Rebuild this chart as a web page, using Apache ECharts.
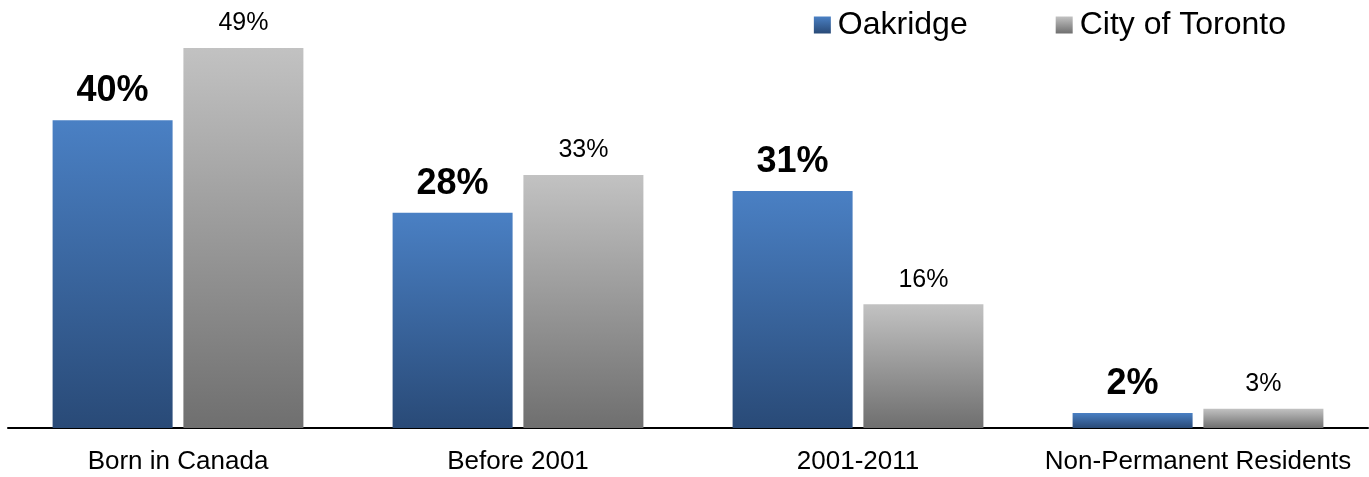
<!DOCTYPE html>
<html>
<head>
<meta charset="utf-8">
<script src="https://cdn.jsdelivr.net/npm/echarts@6/dist/echarts.min.js"></script>
<style>
  html, body { margin: 0; padding: 0; background: #fff; }
  #chart { width: 1369px; height: 477px; }
</style>
</head>
<body>
<div id="chart"></div>
<script>
// categories and values (percent; labels are rounded)
var categories = ['Born in Canada', 'Before 2001', '2001-2011', 'Non-Permanent Residents']
var oakridgeValues = [40, 28, 30.8, 1.95]
var torontoValues = [49.4, 32.9, 16.1, 2.5]

var font = 'Arial, "Liberation Sans", sans-serif'

function grad(top, bottom) {
  return new echarts.graphic.LinearGradient(0, 0, 0, 1, [
    { offset: 0, color: top },
    { offset: 1, color: bottom }
  ])
}

function pct(p) {
  return Math.round(p.value) + '%'
}

var chart = echarts.init(document.getElementById('chart'))
chart.setOption({
  animation: false,
  legend: {
    right: 78,
    top: 4,
    itemWidth: 17,
    itemHeight: 17,
    itemGap: 88,
    icon: 'rect',
    textStyle: {
      fontFamily: font,
      fontSize: 32,
      color: '#000',
      padding: [0, 0, 6, 2]
    },
    data: ['Oakridge', 'City of Toronto']
  },
  grid: {
    left: 8,
    right: 1,
    top: 5,
    bottom: 49
  },
  xAxis: {
    type: 'category',
    data: categories,
    axisLine: { lineStyle: { color: '#000', width: 2 } },
    axisTick: { show: false },
    axisLabel: {
      interval: 0,
      fontFamily: font,
      fontSize: 26,
      color: '#000',
      margin: 21
    }
  },
  yAxis: {
    type: 'value',
    min: 0,
    max: 55,
    show: false,
    splitLine: { show: false }
  },
  series: [
    {
      name: 'Oakridge',
      type: 'bar',
      barWidth: 120,
      barGap: '9%',
      data: oakridgeValues,
      itemStyle: { color: grad('#4a80c4', '#294a77') },
      label: {
        show: true,
        position: 'top',
        distance: 11,
        formatter: pct,
        fontFamily: font,
        fontSize: 36,
        fontWeight: 'bold',
        color: '#000'
      }
    },
    {
      name: 'City of Toronto',
      type: 'bar',
      barWidth: 120,
      data: torontoValues,
      itemStyle: { color: grad('#c2c2c2', '#6f6f6f') },
      label: {
        show: true,
        position: 'top',
        distance: 12,
        formatter: pct,
        fontFamily: font,
        fontSize: 25,
        color: '#000'
      }
    }
  ]
})
</script>
</body>
</html>
